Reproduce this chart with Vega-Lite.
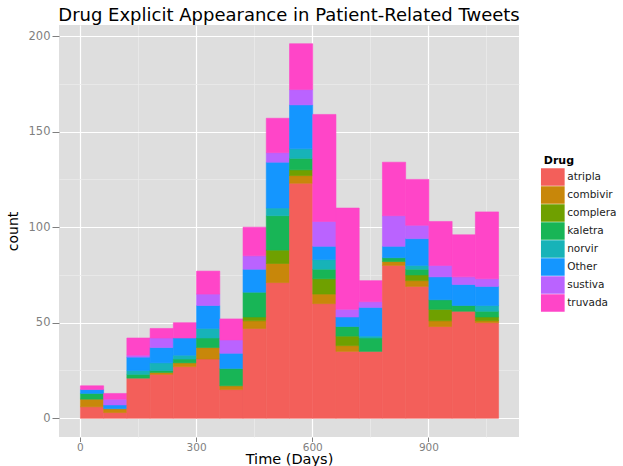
{
  "$schema": "https://vega.github.io/schema/vega-lite/v6.json",
  "width": 460,
  "height": 412,
  "autosize": {"type": "none"},
  "padding": {"left": 59, "top": 25, "right": 104, "bottom": 29},
  "background": "white",
  "title": {
    "text": "Drug Explicit Appearance in Patient-Related Tweets",
    "anchor": "middle",
    "frame": "group",
    "dy": 20,
    "offset": 2,
    "font": "DejaVu Sans",
    "fontSize": 18,
    "fontWeight": "normal",
    "color": "black",
    "baseline": "bottom"
  },
  "config": {
    "view": {"fill": "#DEDEDE", "stroke": null},
    "font": "DejaVu Sans"
  },
  "data": {
    "values": [
      {"bin_start": 0, "bin_end": 60, "drug": "atripla", "count": 6},
      {"bin_start": 0, "bin_end": 60, "drug": "combivir", "count": 4},
      {"bin_start": 0, "bin_end": 60, "drug": "kaletra", "count": 3},
      {"bin_start": 0, "bin_end": 60, "drug": "Other", "count": 2},
      {"bin_start": 0, "bin_end": 60, "drug": "truvada", "count": 2},
      {"bin_start": 60, "bin_end": 120, "drug": "atripla", "count": 3},
      {"bin_start": 60, "bin_end": 120, "drug": "combivir", "count": 2},
      {"bin_start": 60, "bin_end": 120, "drug": "Other", "count": 2},
      {"bin_start": 60, "bin_end": 120, "drug": "sustiva", "count": 3},
      {"bin_start": 60, "bin_end": 120, "drug": "truvada", "count": 3},
      {"bin_start": 120, "bin_end": 180, "drug": "atripla", "count": 21},
      {"bin_start": 120, "bin_end": 180, "drug": "kaletra", "count": 2},
      {"bin_start": 120, "bin_end": 180, "drug": "norvir", "count": 2},
      {"bin_start": 120, "bin_end": 180, "drug": "Other", "count": 7},
      {"bin_start": 120, "bin_end": 180, "drug": "sustiva", "count": 1},
      {"bin_start": 120, "bin_end": 180, "drug": "truvada", "count": 9},
      {"bin_start": 180, "bin_end": 240, "drug": "atripla", "count": 23},
      {"bin_start": 180, "bin_end": 240, "drug": "combivir", "count": 1},
      {"bin_start": 180, "bin_end": 240, "drug": "kaletra", "count": 1},
      {"bin_start": 180, "bin_end": 240, "drug": "norvir", "count": 4},
      {"bin_start": 180, "bin_end": 240, "drug": "Other", "count": 8},
      {"bin_start": 180, "bin_end": 240, "drug": "sustiva", "count": 5},
      {"bin_start": 180, "bin_end": 240, "drug": "truvada", "count": 5},
      {"bin_start": 240, "bin_end": 300, "drug": "atripla", "count": 27},
      {"bin_start": 240, "bin_end": 300, "drug": "combivir", "count": 2},
      {"bin_start": 240, "bin_end": 300, "drug": "kaletra", "count": 2},
      {"bin_start": 240, "bin_end": 300, "drug": "norvir", "count": 2},
      {"bin_start": 240, "bin_end": 300, "drug": "Other", "count": 9},
      {"bin_start": 240, "bin_end": 300, "drug": "truvada", "count": 8},
      {"bin_start": 300, "bin_end": 360, "drug": "atripla", "count": 31},
      {"bin_start": 300, "bin_end": 360, "drug": "combivir", "count": 6},
      {"bin_start": 300, "bin_end": 360, "drug": "kaletra", "count": 5},
      {"bin_start": 300, "bin_end": 360, "drug": "norvir", "count": 5},
      {"bin_start": 300, "bin_end": 360, "drug": "Other", "count": 12},
      {"bin_start": 300, "bin_end": 360, "drug": "sustiva", "count": 6},
      {"bin_start": 300, "bin_end": 360, "drug": "truvada", "count": 12},
      {"bin_start": 360, "bin_end": 420, "drug": "atripla", "count": 15},
      {"bin_start": 360, "bin_end": 420, "drug": "combivir", "count": 2},
      {"bin_start": 360, "bin_end": 420, "drug": "kaletra", "count": 9},
      {"bin_start": 360, "bin_end": 420, "drug": "Other", "count": 8},
      {"bin_start": 360, "bin_end": 420, "drug": "sustiva", "count": 7},
      {"bin_start": 360, "bin_end": 420, "drug": "truvada", "count": 11},
      {"bin_start": 420, "bin_end": 480, "drug": "atripla", "count": 47},
      {"bin_start": 420, "bin_end": 480, "drug": "combivir", "count": 4},
      {"bin_start": 420, "bin_end": 480, "drug": "complera", "count": 2},
      {"bin_start": 420, "bin_end": 480, "drug": "kaletra", "count": 13},
      {"bin_start": 420, "bin_end": 480, "drug": "Other", "count": 12},
      {"bin_start": 420, "bin_end": 480, "drug": "sustiva", "count": 7},
      {"bin_start": 420, "bin_end": 480, "drug": "truvada", "count": 15},
      {"bin_start": 480, "bin_end": 540, "drug": "atripla", "count": 71},
      {"bin_start": 480, "bin_end": 540, "drug": "combivir", "count": 10},
      {"bin_start": 480, "bin_end": 540, "drug": "complera", "count": 7},
      {"bin_start": 480, "bin_end": 540, "drug": "kaletra", "count": 18},
      {"bin_start": 480, "bin_end": 540, "drug": "norvir", "count": 4},
      {"bin_start": 480, "bin_end": 540, "drug": "Other", "count": 24},
      {"bin_start": 480, "bin_end": 540, "drug": "sustiva", "count": 5},
      {"bin_start": 480, "bin_end": 540, "drug": "truvada", "count": 18},
      {"bin_start": 540, "bin_end": 600, "drug": "atripla", "count": 123},
      {"bin_start": 540, "bin_end": 600, "drug": "combivir", "count": 4},
      {"bin_start": 540, "bin_end": 600, "drug": "complera", "count": 3},
      {"bin_start": 540, "bin_end": 600, "drug": "kaletra", "count": 6},
      {"bin_start": 540, "bin_end": 600, "drug": "norvir", "count": 5},
      {"bin_start": 540, "bin_end": 600, "drug": "Other", "count": 23},
      {"bin_start": 540, "bin_end": 600, "drug": "sustiva", "count": 8},
      {"bin_start": 540, "bin_end": 600, "drug": "truvada", "count": 24},
      {"bin_start": 600, "bin_end": 660, "drug": "atripla", "count": 60},
      {"bin_start": 600, "bin_end": 660, "drug": "combivir", "count": 5},
      {"bin_start": 600, "bin_end": 660, "drug": "complera", "count": 8},
      {"bin_start": 600, "bin_end": 660, "drug": "kaletra", "count": 5},
      {"bin_start": 600, "bin_end": 660, "drug": "norvir", "count": 5},
      {"bin_start": 600, "bin_end": 660, "drug": "Other", "count": 7},
      {"bin_start": 600, "bin_end": 660, "drug": "sustiva", "count": 13},
      {"bin_start": 600, "bin_end": 660, "drug": "truvada", "count": 56},
      {"bin_start": 660, "bin_end": 720, "drug": "atripla", "count": 35},
      {"bin_start": 660, "bin_end": 720, "drug": "combivir", "count": 3},
      {"bin_start": 660, "bin_end": 720, "drug": "complera", "count": 5},
      {"bin_start": 660, "bin_end": 720, "drug": "kaletra", "count": 5},
      {"bin_start": 660, "bin_end": 720, "drug": "Other", "count": 5},
      {"bin_start": 660, "bin_end": 720, "drug": "sustiva", "count": 4},
      {"bin_start": 660, "bin_end": 720, "drug": "truvada", "count": 53},
      {"bin_start": 720, "bin_end": 780, "drug": "atripla", "count": 35},
      {"bin_start": 720, "bin_end": 780, "drug": "kaletra", "count": 7},
      {"bin_start": 720, "bin_end": 780, "drug": "norvir", "count": 1},
      {"bin_start": 720, "bin_end": 780, "drug": "Other", "count": 15},
      {"bin_start": 720, "bin_end": 780, "drug": "sustiva", "count": 3},
      {"bin_start": 720, "bin_end": 780, "drug": "truvada", "count": 11},
      {"bin_start": 780, "bin_end": 840, "drug": "atripla", "count": 80},
      {"bin_start": 780, "bin_end": 840, "drug": "combivir", "count": 2},
      {"bin_start": 780, "bin_end": 840, "drug": "kaletra", "count": 2},
      {"bin_start": 780, "bin_end": 840, "drug": "Other", "count": 6},
      {"bin_start": 780, "bin_end": 840, "drug": "sustiva", "count": 16},
      {"bin_start": 780, "bin_end": 840, "drug": "truvada", "count": 28},
      {"bin_start": 840, "bin_end": 900, "drug": "atripla", "count": 69},
      {"bin_start": 840, "bin_end": 900, "drug": "combivir", "count": 3},
      {"bin_start": 840, "bin_end": 900, "drug": "complera", "count": 3},
      {"bin_start": 840, "bin_end": 900, "drug": "kaletra", "count": 3},
      {"bin_start": 840, "bin_end": 900, "drug": "norvir", "count": 2},
      {"bin_start": 840, "bin_end": 900, "drug": "Other", "count": 14},
      {"bin_start": 840, "bin_end": 900, "drug": "sustiva", "count": 7},
      {"bin_start": 840, "bin_end": 900, "drug": "truvada", "count": 24},
      {"bin_start": 900, "bin_end": 960, "drug": "atripla", "count": 48},
      {"bin_start": 900, "bin_end": 960, "drug": "combivir", "count": 3},
      {"bin_start": 900, "bin_end": 960, "drug": "complera", "count": 6},
      {"bin_start": 900, "bin_end": 960, "drug": "kaletra", "count": 5},
      {"bin_start": 900, "bin_end": 960, "drug": "Other", "count": 12},
      {"bin_start": 900, "bin_end": 960, "drug": "sustiva", "count": 6},
      {"bin_start": 900, "bin_end": 960, "drug": "truvada", "count": 23},
      {"bin_start": 960, "bin_end": 1020, "drug": "atripla", "count": 56},
      {"bin_start": 960, "bin_end": 1020, "drug": "kaletra", "count": 3},
      {"bin_start": 960, "bin_end": 1020, "drug": "Other", "count": 11},
      {"bin_start": 960, "bin_end": 1020, "drug": "sustiva", "count": 4},
      {"bin_start": 960, "bin_end": 1020, "drug": "truvada", "count": 22},
      {"bin_start": 1020, "bin_end": 1080, "drug": "atripla", "count": 50},
      {"bin_start": 1020, "bin_end": 1080, "drug": "combivir", "count": 1},
      {"bin_start": 1020, "bin_end": 1080, "drug": "complera", "count": 2},
      {"bin_start": 1020, "bin_end": 1080, "drug": "kaletra", "count": 3},
      {"bin_start": 1020, "bin_end": 1080, "drug": "norvir", "count": 3},
      {"bin_start": 1020, "bin_end": 1080, "drug": "Other", "count": 10},
      {"bin_start": 1020, "bin_end": 1080, "drug": "sustiva", "count": 4},
      {"bin_start": 1020, "bin_end": 1080, "drug": "truvada", "count": 35}
    ]
  },
  "transform": [
    {"calculate": "indexof(['atripla','combivir','complera','kaletra','norvir','Other','sustiva','truvada'], datum.drug)", "as": "drug_rank"}
  ],
  "layer": [
    {
      "mark": {"type": "bar", "opacity": 0, "binSpacing": 0},
      "encoding": {
        "x": {
          "field": "bin_start", "type": "quantitative", "bin": {"binned": true, "step": 60},
          "scale": {"domain": [-54, 1134], "nice": false, "zero": false},
          "axis": {"orient": "top", "values": [150, 450, 750, 1050], "grid": true, "gridColor": "#EBEBEB", "gridWidth": 0.8, "labels": false, "ticks": false, "domain": false, "title": null, "zindex": 0}
        },
        "x2": {"field": "bin_end"},
        "y": {
          "field": "count", "type": "quantitative", "stack": "zero",
          "scale": {"domain": [-9.8, 205.8], "nice": false, "zero": false},
          "axis": {"orient": "right", "values": [25, 75, 125, 175], "grid": true, "gridColor": "#EBEBEB", "gridWidth": 0.8, "labels": false, "ticks": false, "domain": false, "title": null, "zindex": 0}
        },
        "order": {"field": "drug_rank", "type": "quantitative", "sort": "ascending"}
      }
    },
    {
      "mark": {"type": "bar", "binSpacing": 0, "strokeWidth": 0.6},
      "encoding": {
        "x": {
          "field": "bin_start", "type": "quantitative", "bin": {"binned": true, "step": 60},
          "scale": {"domain": [-54, 1134], "nice": false, "zero": false},
          "axis": {
            "orient": "bottom", "values": [0, 300, 600, 900], "grid": true, "gridColor": "white", "gridWidth": 1.2,
            "domain": false, "ticks": true, "tickColor": "#7F7F7F", "tickSize": 4.5, "tickWidth": 1,
            "labelColor": "#7F7F7F", "labelFont": "DejaVu Sans", "labelFontSize": 10.5, "labelPadding": 0.5,
            "title": "Time (Days)", "titleFont": "DejaVu Sans", "titleFontSize": 14.5, "titleFontWeight": "normal", "titleColor": "black",
            "titleBaseline": "alphabetic", "titleY": 26.5, "zindex": 0
          }
        },
        "x2": {"field": "bin_end"},
        "y": {
          "field": "count", "type": "quantitative", "stack": "zero",
          "scale": {"domain": [-9.8, 205.8], "nice": false, "zero": false},
          "axis": {
            "orient": "left", "values": [0, 50, 100, 150, 200], "grid": true, "gridColor": "white", "gridWidth": 1.2,
            "domain": false, "ticks": true, "tickColor": "#7F7F7F", "tickSize": 7, "tickWidth": 1,
            "labelColor": "#7F7F7F", "labelFont": "DejaVu Sans", "labelFontSize": 11.5, "labelPadding": 2,
            "title": "count", "titleFont": "DejaVu Sans", "titleFontSize": 14, "titleFontWeight": "normal", "titleColor": "black",
            "titleX": -46, "titleBaseline": "middle", "zindex": 0
          }
        },
        "color": {
          "field": "drug", "type": "nominal",
          "scale": {
            "domain": ["atripla", "combivir", "complera", "kaletra", "norvir", "Other", "sustiva", "truvada"],
            "range": ["#F35F5A", "#C8870A", "#6FA000", "#18B556", "#17B3B8", "#1496FF", "#BA63FF", "#FF45C8"]
          },
          "legend": {
            "title": "Drug", "orient": "none", "legendX": 484.8, "legendY": 130,
            "padding": 0, "rowPadding": 0, "titlePadding": 2,
            "titleFont": "DejaVu Sans", "titleFontSize": 11, "titleFontWeight": "bold", "titleColor": "black",
            "labelFont": "DejaVu Sans", "labelFontSize": 10.5, "labelColor": "#222222", "labelOffset": 5.4,
            "symbolType": "M-1.354,-1H1.354V1H-1.354Z", "symbolSize": 306, "symbolStrokeWidth": 0, "symbolOpacity": 1
          }
        },
        "stroke": {
          "field": "drug", "type": "nominal",
          "scale": {
            "domain": ["atripla", "combivir", "complera", "kaletra", "norvir", "Other", "sustiva", "truvada"],
            "range": ["#F35F5A", "#C8870A", "#6FA000", "#18B556", "#17B3B8", "#1496FF", "#BA63FF", "#FF45C8"]
          },
          "legend": null
        },
        "order": {"field": "drug_rank", "type": "quantitative", "sort": "ascending"}
      }
    }
  ],
  "resolve": {"axis": {"x": "independent", "y": "independent"}}
}
